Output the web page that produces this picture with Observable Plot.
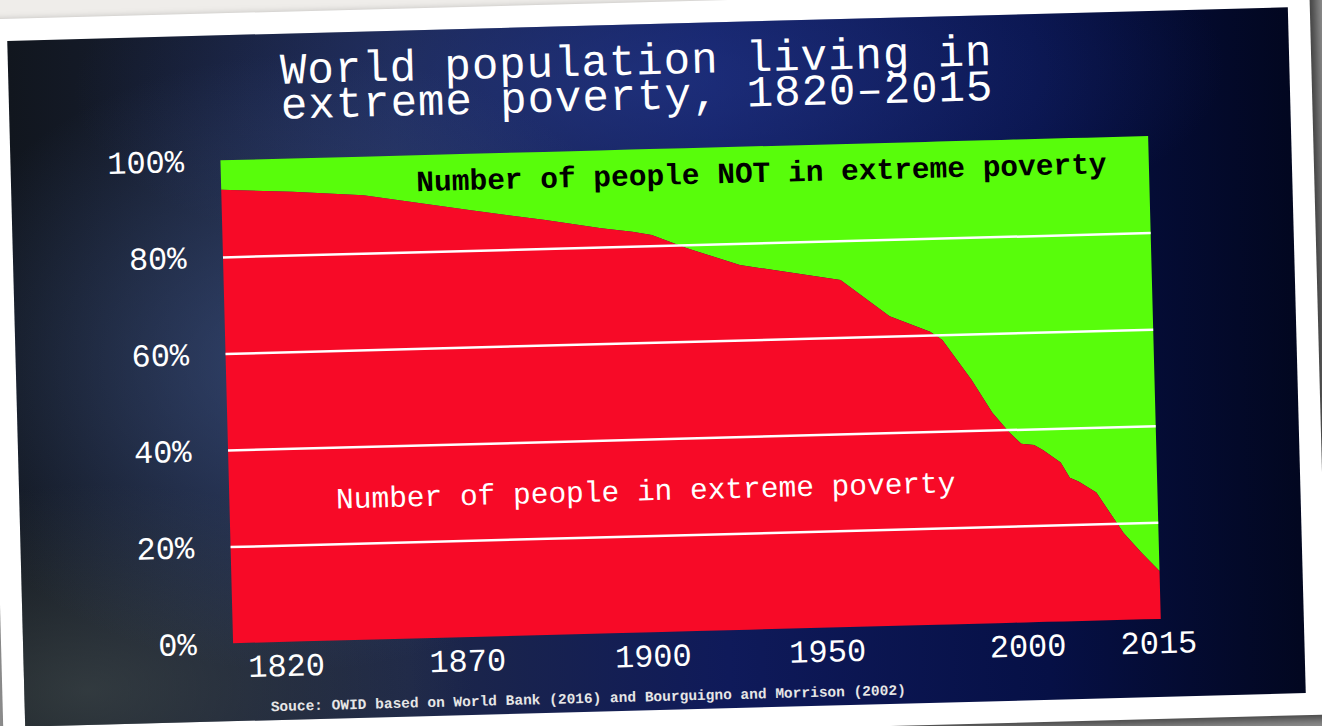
<!DOCTYPE html>
<html>
<head>
<meta charset="utf-8">
<script src="https://cdn.jsdelivr.net/npm/d3@7"></script>
<script src="https://cdn.jsdelivr.net/npm/@observablehq/plot@0.6"></script>
<style>
  html, body { margin: 0; padding: 0; }
  body { width: 1322px; height: 726px; overflow: hidden; position: relative; background: #8e8e8e; }
  #topstrip { position: absolute; left: 0; top: 0; width: 760px; height: 40px; background: #efedea; }
  #card {
    position: absolute; left: -6.5px; top: 2px; width: 1325px; height: 730px;
    background: #ffffff; transform: rotate(-1.5deg); transform-origin: 662.5px 365px;
    box-shadow: 6px 4px 10px rgba(0,0,0,0.55);
  }
  #panel {
    position: absolute; left: 22px; top: 22px; width: 1281px; height: 686px; overflow: hidden;
    background:
      radial-gradient(ellipse 30% 45% at 22% 48%, rgba(70,95,150,0.55), rgba(70,95,150,0) 100%),
      radial-gradient(ellipse 45% 30% at 50% 8%, rgba(40,62,150,0.55), rgba(40,62,150,0) 100%),
      radial-gradient(ellipse 30% 30% at 5% 95%, rgba(70,80,80,0.6), rgba(70,80,80,0) 100%),
      linear-gradient(90deg, #11161e 0%, #1d2748 30%, #0f1a5a 55%, #061046 80%, #020720 100%);
  }
  #title {
    position: absolute; left: 272px; top: 21px; margin: 0;
    font-family: "Liberation Mono", "DejaVu Sans Mono", monospace; font-size: 44px; line-height: 35px;
    letter-spacing: 1px; color: #ffffff; font-weight: normal; white-space: pre;
  }
  #chart { position: absolute; left: 0; top: 100px; }
  #caption {
    position: absolute; left: 246px; top: 664px; margin: 0;
    font-family: "Liberation Mono", monospace; font-size: 14.5px; line-height: 18px;
    font-weight: bold; color: #e6e6e6; white-space: pre;
  }
</style>
</head>
<body>
<div id="topstrip"></div>
<div id="card">
  <div id="panel">
    <div id="title"></div>
    <div id="chart"></div>
    <div id="caption"></div>
  </div>
</div>
<script>
// ---- data ----
const titleLines = ["World population living in", "extreme poverty, 1820–2015"];
const captionText = "Souce: OWID based on World Bank (2016) and Bourguigno and Morrison (2002)";
const labelNotPoor = "Number of people NOT in extreme poverty";
const labelPoor = "Number of people in extreme poverty";

const years = [1820, 1835, 1850, 1872, 1884, 1893, 1898, 1902, 1912, 1927, 1955, 1967, 1977, 1980,
               1987, 1992, 1996, 1999, 2001, 2002, 2004, 2005, 2006, 2008, 2010, 2011, 2013, 2015];
const povertyShare = [93.9, 93.1, 92.0, 88.3, 85.9, 83.9, 83.0, 82.2, 79.3, 75.5, 71.9, 64.1, 60.7, 58.9,
                      50.5, 43.6, 39.5, 37.0, 36.7, 35.6, 32.9, 29.7, 28.9, 26.5, 20.8, 18.0, 13.8, 9.9];

const xTickYears = [1820, 1870, 1900, 1950, 2000, 2015];
const yTicks = [0, 20, 40, 60, 80, 100];
const gridValues = [20, 40, 60, 80];

// ---- build ----
document.getElementById("title").textContent = titleLines.join("\n");
document.getElementById("caption").textContent = captionText;

const RED = "#f70a27";
const GREEN = "#58fd0b";
const FONT = "'Liberation Mono', 'DejaVu Sans Mono', monospace";

const data = years.map((year, i) => ({year, share: povertyShare[i]}));

const W = 1281, H = 560, mL = 210, mR = 143, mT = 25, mB = 52;
const inner = W - mL - mR;
// relative horizontal placement of the labelled years along the axis (the source axis is not linear in time)
const tickFrac = [0, 0.255, 0.455, 0.643, 0.859, 1];

const chart = Plot.plot({
  width: W, height: H,
  marginLeft: mL, marginRight: mR, marginTop: mT, marginBottom: mB,
  style: {background: "transparent", color: "white", fontFamily: FONT, overflow: "visible"},
  x: {type: "linear", domain: xTickYears, range: tickFrac.map(f => mL + f * inner), label: null},
  y: {domain: [0, 100], label: null},
  marks: [
    Plot.areaY(data, {x: "year", y1: "share", y2: 100, fill: GREEN}),
    Plot.areaY(data, {x: "year", y1: 0, y2: "share", fill: RED}),
    Plot.ruleY(gridValues, {stroke: "white", strokeWidth: 2.5}),
    Plot.axisY({ticks: yTicks, tickFormat: d => d + "%", tickSize: 0, tickPadding: 37,
                fontSize: 32, fontFamily: FONT, fill: "white", label: null}),
    Plot.axisX({ticks: xTickYears.slice(0, 1), tickFormat: d => String(d), tickSize: 0, tickPadding: 11,
                textAnchor: "start", dx: 14, fontSize: 32, fontFamily: FONT, fill: "white", label: null}),
    Plot.axisX({ticks: xTickYears.slice(1), tickFormat: d => String(d), tickSize: 0, tickPadding: 11,
                dx: -3, fontSize: 32, fontFamily: FONT, fill: "white", label: null}),
    Plot.text([labelNotPoor], {text: d => d, frameAnchor: "top-left", textAnchor: "middle", lineAnchor: "middle",
                dx: 540, dy: 26, fontSize: 29.5, fontWeight: "bold", fontFamily: FONT, fill: "#000000"}),
    Plot.text([labelPoor], {text: d => d, frameAnchor: "top-left", textAnchor: "middle", lineAnchor: "middle",
                dx: 416, dy: 341, fontSize: 29.5, fontFamily: FONT, fill: "#ffffff"})
  ]
});
document.getElementById("chart").appendChild(chart);
</script>
</body>
</html>
